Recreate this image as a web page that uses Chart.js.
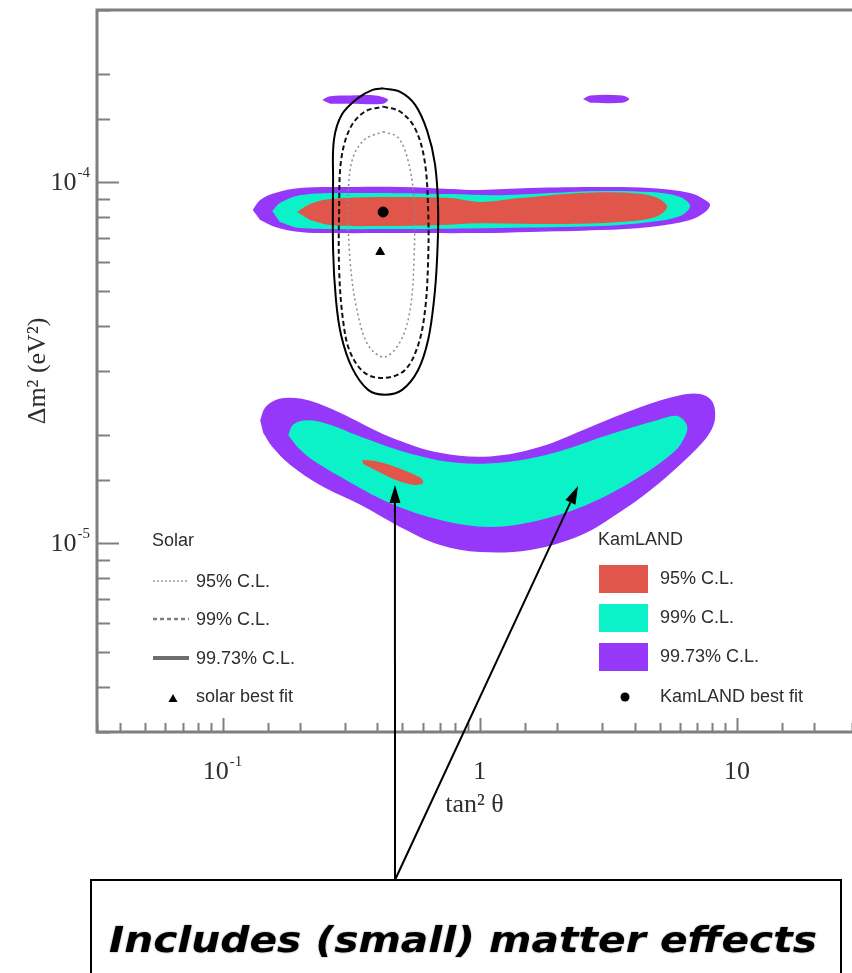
<!DOCTYPE html>
<html>
<head>
<meta charset="utf-8">
<title>KamLAND and solar allowed regions</title>
<script src="https://cdn.jsdelivr.net/npm/chart.js@4.4.1/dist/chart.umd.min.js"></script>
<style>
  html, body { margin: 0; padding: 0; background: #fff; overflow: hidden; }
  canvas { display: block; }
</style>
</head>
<body>
<canvas id="osc" width="852" height="973"></canvas>
<script>
// Axis ranges (tan^2 theta, delta m^2 in eV^2)
const X_RANGE = [0.0325, 28];
const Y_RANGE = [3e-6, 3e-4];

// KamLAND allowed regions, [tan2, dm2] outlines
const KAM_9973_BAND = [
  [0.131, 8.38e-5], [0.140, 8.93e-5], [0.160, 9.34e-5], [0.200, 9.64e-5], [0.313, 9.70e-5],
  [0.490, 9.70e-5], [0.767, 9.58e-5], [1.00, 9.52e-5], [1.57, 9.64e-5], [2.94, 9.70e-5],
  [4.59, 9.64e-5], [6.57, 9.34e-5], [7.52, 8.93e-5], [7.86, 8.65e-5], [7.52, 8.27e-5],
  [6.57, 7.86e-5], [4.59, 7.52e-5], [2.94, 7.37e-5], [1.57, 7.28e-5], [1.00, 7.23e-5],
  [0.490, 7.23e-5], [0.262, 7.23e-5], [0.200, 7.28e-5], [0.160, 7.52e-5], [0.140, 7.86e-5]
];
const KAM_9973_ISLAND_A = [
  [0.244, 1.69e-4], [0.262, 1.73e-4], [0.313, 1.74e-4], [0.392, 1.74e-4], [0.432, 1.71e-4],
  [0.440, 1.69e-4], [0.421, 1.65e-4], [0.313, 1.65e-4], [0.262, 1.65e-4]
];
const KAM_9973_ISLAND_B = [
  [2.52, 1.70e-4], [2.69, 1.74e-4], [3.58, 1.74e-4], [3.81, 1.70e-4], [3.58, 1.66e-4], [2.69, 1.66e-4]
];
const KAM_9973_LOW = [
  [0.140, 2.19e-5], [0.146, 2.37e-5], [0.160, 2.49e-5], [0.183, 2.53e-5], [0.219, 2.48e-5],
  [0.286, 2.30e-5], [0.448, 1.97e-5], [0.701, 1.78e-5], [1.10, 1.74e-5], [1.72, 1.85e-5],
  [2.69, 2.10e-5], [4.20, 2.38e-5], [6.01, 2.57e-5], [7.19, 2.59e-5], [8.01, 2.47e-5],
  [8.22, 2.22e-5], [7.86, 2.03e-5], [7.19, 1.87e-5], [6.01, 1.65e-5], [4.59, 1.40e-5],
  [3.51, 1.22e-5], [2.46, 1.05e-5], [1.57, 9.58e-6], [1.00, 9.45e-6], [0.701, 9.89e-6],
  [0.490, 1.11e-5], [0.342, 1.28e-5], [0.239, 1.45e-5], [0.183, 1.65e-5], [0.156, 1.85e-5],
  [0.144, 2.02e-5]
];
const KAM_99_BAND = [
  [0.156, 8.32e-5], [0.167, 8.76e-5], [0.200, 9.21e-5], [0.313, 9.34e-5], [0.767, 9.28e-5],
  [1.20, 9.21e-5], [2.94, 9.45e-5], [4.59, 9.39e-5], [6.01, 9.10e-5], [6.57, 8.59e-5],
  [6.01, 8.06e-5], [4.59, 7.76e-5], [2.94, 7.56e-5], [1.20, 7.47e-5], [0.490, 7.42e-5],
  [0.200, 7.47e-5], [0.167, 7.76e-5]
];
const KAM_99_LOW = [
  [0.180, 1.99e-5], [0.188, 2.13e-5], [0.213, 2.19e-5], [0.262, 2.13e-5], [0.333, 1.99e-5],
  [0.522, 1.78e-5], [0.816, 1.67e-5], [1.28, 1.68e-5], [2.00, 1.79e-5], [3.13, 1.99e-5],
  [4.89, 2.19e-5], [5.85, 2.25e-5], [6.40, 2.11e-5], [6.17, 1.93e-5], [5.64, 1.78e-5],
  [4.20, 1.53e-5], [2.69, 1.29e-5], [1.72, 1.16e-5], [1.10, 1.11e-5], [0.701, 1.16e-5],
  [0.448, 1.29e-5], [0.286, 1.53e-5], [0.219, 1.72e-5], [0.195, 1.85e-5]
];
const KAM_95_BAND = [
  [0.195, 8.27e-5], [0.219, 8.70e-5], [0.262, 8.98e-5], [0.410, 9.10e-5], [0.767, 9.04e-5],
  [1.00, 8.82e-5], [1.43, 9.04e-5], [2.46, 9.34e-5], [3.84, 9.34e-5], [4.81, 9.10e-5],
  [5.35, 8.54e-5], [4.81, 8.01e-5], [3.51, 7.76e-5], [2.05, 7.66e-5], [1.00, 7.70e-5],
  [0.701, 7.61e-5], [0.410, 7.56e-5], [0.262, 7.61e-5], [0.219, 7.86e-5]
];
const KAM_95_LOW = [
  [0.349, 1.70e-5], [0.392, 1.69e-5], [0.468, 1.63e-5], [0.586, 1.52e-5], [0.602, 1.47e-5],
  [0.560, 1.45e-5], [0.468, 1.50e-5], [0.375, 1.62e-5], [0.352, 1.66e-5]
];

// Solar allowed regions (closed contours)
const SOLAR_9973 = [
  [0.421, 1.82e-4], [0.490, 1.78e-4], [0.560, 1.64e-4], [0.624, 1.39e-4], [0.670, 1.12e-4],
  [0.689, 8.38e-5], [0.682, 6.09e-5], [0.664, 4.72e-5], [0.630, 3.66e-5], [0.576, 3.02e-5],
  [0.499, 2.66e-5], [0.428, 2.58e-5], [0.368, 2.66e-5], [0.319, 3.06e-5], [0.289, 3.77e-5],
  [0.276, 4.72e-5], [0.269, 6.49e-5], [0.269, 1.01e-4], [0.271, 1.31e-4], [0.291, 1.54e-4],
  [0.336, 1.71e-4], [0.381, 1.80e-4]
];
const SOLAR_99 = [
  [0.421, 1.62e-4], [0.490, 1.57e-4], [0.560, 1.41e-4], [0.610, 1.15e-4], [0.630, 8.38e-5],
  [0.630, 6.09e-5], [0.613, 4.43e-5], [0.576, 3.54e-5], [0.512, 3.02e-5], [0.428, 2.87e-5],
  [0.358, 2.96e-5], [0.313, 3.39e-5], [0.294, 4.15e-5], [0.284, 5.71e-5], [0.284, 8.38e-5],
  [0.289, 1.15e-4], [0.313, 1.41e-4], [0.358, 1.57e-4]
];
const SOLAR_95 = [
  [0.421, 1.38e-4], [0.481, 1.33e-4], [0.526, 1.15e-4], [0.555, 8.93e-5], [0.555, 6.09e-5],
  [0.536, 4.43e-5], [0.490, 3.61e-5], [0.425, 3.28e-5], [0.368, 3.54e-5], [0.333, 4.43e-5],
  [0.313, 6.09e-5], [0.308, 8.93e-5], [0.319, 1.15e-4], [0.355, 1.31e-4]
];

// Best fit points
const KAM_BEST = [0.421, 8.27e-5];
const SOLAR_BEST = [0.410, 6.41e-5];

// Where the two "matter effects" arrows point
const ARROW_TIPS = [[0.468, 1.45e-5], [2.41, 1.44e-5]];

const PURPLE = '#9638fa';
const CYAN = '#0cf2c8';
const RED = '#e0564a';
const AXIS_GREY = '#7f7f7f';
const TEXT = '#2e2e2e';
const SERIF = '"Liberation Serif", "DejaVu Serif", serif';
const SANS = '"Liberation Sans", Arial, sans-serif';

const pts = (pairs, close) => {
  const out = pairs.map(p => ({ x: p[0], y: p[1] }));
  if (close) out.push({ x: pairs[0][0], y: pairs[0][1] });
  return out;
};

const region = (label, pairs, color) => ({
  label, data: pts(pairs, false), fill: 'shape', backgroundColor: color,
  borderWidth: 0, pointRadius: 0, tension: 0.35
});

const contour = (label, pairs, color, width, dash) => ({
  label, data: pts(pairs, true), fill: false, borderColor: color,
  borderWidth: width, borderDash: dash, pointRadius: 0, tension: 0.35
});

// Datasets are listed top-most first (chart.js draws index 0 last)
const datasets = [
  { label: 'KamLAND best fit', data: pts([KAM_BEST]), showLine: false, pointRadius: 5,
    pointStyle: 'circle', backgroundColor: '#000', borderColor: '#000' },
  { label: 'solar best fit', data: pts([SOLAR_BEST]), showLine: false, pointRadius: 5,
    pointStyle: 'triangle', backgroundColor: '#000', borderColor: '#000' },
  contour('Solar 99.73%', SOLAR_9973, '#000', 2, []),
  contour('Solar 99%', SOLAR_99, '#111', 2, [5, 3]),
  contour('Solar 95%', SOLAR_95, '#8a8a8a', 1.5, [2, 3]),
  region('KamLAND 95% low', KAM_95_LOW, RED),
  region('KamLAND 95%', KAM_95_BAND, RED),
  region('KamLAND 99% low', KAM_99_LOW, CYAN),
  region('KamLAND 99%', KAM_99_BAND, CYAN),
  region('KamLAND 99.73% low', KAM_9973_LOW, PURPLE),
  region('KamLAND 99.73% A', KAM_9973_ISLAND_A, PURPLE),
  region('KamLAND 99.73% B', KAM_9973_ISLAND_B, PURPLE),
  region('KamLAND 99.73%', KAM_9973_BAND, PURPLE)
];

const isDecade = v => Math.abs(Math.log10(v) - Math.round(Math.log10(v))) < 1e-6;

// "10" with a raised exponent, like the ROOT axis labels
function drawPower(ctx, value, x, y, align) {
  const e = Math.round(Math.log10(value));
  const base = e === 0 ? '1' : '10';
  const exp = e < 0 ? String(e) : '';
  ctx.font = '26px ' + SERIF;
  const bw = ctx.measureText(base).width;
  ctx.font = '15px ' + SERIF;
  const ew = exp ? ctx.measureText(exp).width + 1 : 0;
  const left = align === 'right' ? x - bw - ew : x - (bw + ew) / 2;
  ctx.fillStyle = TEXT;
  ctx.textAlign = 'left';
  ctx.textBaseline = 'middle';
  ctx.font = '26px ' + SERIF;
  ctx.fillText(base, left, y);
  if (exp) {
    ctx.font = '15px ' + SERIF;
    ctx.fillText(exp, left + bw + 1, y - 10);
  }
}

const framePlugin = {
  id: 'frame',
  afterDatasetsDraw(chart) {
    const { ctx, chartArea: a, scales: { x, y } } = chart;
    ctx.save();
    ctx.strokeStyle = AXIS_GREY;
    ctx.lineWidth = 2;
    // inward ticks
    y.ticks.forEach(t => {
      const py = Math.round(y.getPixelForValue(t.value)) + 0.5;
      const len = isDecade(t.value) ? 22 : 13;
      ctx.beginPath(); ctx.moveTo(a.left, py); ctx.lineTo(a.left + len, py); ctx.stroke();
    });
    x.ticks.forEach(t => {
      const px = Math.round(x.getPixelForValue(t.value)) + 0.5;
      const len = isDecade(t.value) ? 14 : 9;
      ctx.beginPath(); ctx.moveTo(px, a.bottom); ctx.lineTo(px, a.bottom - len); ctx.stroke();
    });
    // axis lines and the top frame
    ctx.lineWidth = 3;
    ctx.beginPath();
    ctx.moveTo(a.right + 2, a.top);
    ctx.lineTo(a.left, a.top);
    ctx.lineTo(a.left, a.bottom);
    ctx.lineTo(a.right + 2, a.bottom);
    ctx.stroke();
    ctx.restore();
  },
  afterDraw(chart) {
    const { ctx, chartArea: a, scales: { x, y } } = chart;
    ctx.save();
    y.ticks.filter(t => isDecade(t.value)).forEach(t => {
      drawPower(ctx, t.value, a.left - 7, y.getPixelForValue(t.value) + 1, 'right');
    });
    x.ticks.filter(t => isDecade(t.value)).forEach(t => {
      drawPower(ctx, t.value, x.getPixelForValue(t.value), a.bottom + 40, 'center');
    });
    ctx.restore();
  }
};

const legendPlugin = {
  id: 'inPlotLegend',
  afterDraw(chart) {
    const { ctx } = chart;
    ctx.save();
    ctx.fillStyle = TEXT;
    ctx.font = '18px ' + SANS;
    ctx.textAlign = 'left';
    ctx.textBaseline = 'middle';

    // solar block
    ctx.fillText('Solar', 152, 541);
    const solarRows = [
      { y: 581, text: '95% C.L.', color: '#9a9a9a', width: 1.5, dash: [2, 2] },
      { y: 619, text: '99% C.L.', color: '#808080', width: 2.5, dash: [4, 3] },
      { y: 658, text: '99.73% C.L.', color: '#6e6e6e', width: 4, dash: [] }
    ];
    solarRows.forEach(r => {
      ctx.strokeStyle = r.color;
      ctx.lineWidth = r.width;
      ctx.setLineDash(r.dash);
      ctx.beginPath(); ctx.moveTo(153, r.y); ctx.lineTo(189, r.y); ctx.stroke();
      ctx.fillText(r.text, 196, r.y + 1);
    });
    ctx.setLineDash([]);
    ctx.fillStyle = '#000';
    ctx.beginPath();
    ctx.moveTo(173, 694); ctx.lineTo(177.5, 702); ctx.lineTo(168.5, 702); ctx.closePath();
    ctx.fill();
    ctx.fillStyle = TEXT;
    ctx.fillText('solar best fit', 196, 697);

    // KamLAND block
    ctx.fillText('KamLAND', 598, 540);
    [[RED, 565, '95% C.L.'], [CYAN, 604, '99% C.L.'], [PURPLE, 643, '99.73% C.L.']].forEach(([c, top, text]) => {
      ctx.fillStyle = c;
      ctx.fillRect(599, top, 49, 28);
      ctx.fillStyle = TEXT;
      ctx.fillText(text, 660, top + 14);
    });
    ctx.fillStyle = '#000';
    ctx.beginPath(); ctx.arc(625, 697, 4.5, 0, Math.PI * 2); ctx.fill();
    ctx.fillStyle = TEXT;
    ctx.fillText('KamLAND best fit', 660, 697);
    ctx.restore();
  }
};

// Box with the remark and the two arrows pointing into the low region
const notePlugin = {
  id: 'matterNote',
  afterDraw(chart) {
    const { ctx, scales: { x, y } } = chart;
    const root = { x: 395, y: 880 };
    ctx.save();
    ctx.strokeStyle = '#000';
    ctx.fillStyle = '#000';
    ctx.lineWidth = 2;
    ARROW_TIPS.forEach(([tx, ty]) => {
      const px = x.getPixelForValue(tx);
      const py = y.getPixelForValue(ty);
      const ang = Math.atan2(py - root.y, px - root.x);
      const headLen = 18, headHalf = 5.5;
      const bx = px - headLen * Math.cos(ang), by = py - headLen * Math.sin(ang);
      ctx.beginPath(); ctx.moveTo(root.x, root.y); ctx.lineTo(bx, by); ctx.stroke();
      ctx.beginPath();
      ctx.moveTo(px, py);
      ctx.lineTo(bx + headHalf * Math.sin(ang), by - headHalf * Math.cos(ang));
      ctx.lineTo(bx - headHalf * Math.sin(ang), by + headHalf * Math.cos(ang));
      ctx.closePath(); ctx.fill();
    });

    ctx.lineWidth = 2;
    ctx.strokeRect(91, 880, 750, 110);

    const note = 'Includes (small) matter effects';
    ctx.font = 'italic bold 36px "DejaVu Sans", sans-serif';
    ctx.textBaseline = 'alphabetic';
    ctx.textAlign = 'left';
    const w = ctx.measureText(note).width;
    const target = 708;
    ctx.translate(109, 952);
    ctx.scale(target / w, 1);
    ctx.shadowColor = 'rgba(0,0,0,0.45)';
    ctx.shadowBlur = 2;
    ctx.fillText(note, 0, 0);
    ctx.restore();
  }
};

new Chart(document.getElementById('osc'), {
  type: 'line',
  data: { datasets },
  options: {
    responsive: false,
    animation: false,
    events: [],
    layout: { autoPadding: false, padding: { top: 10, right: 0, bottom: 0, left: 0 } },
    plugins: {
      legend: { display: false },
      tooltip: { enabled: false }
    },
    scales: {
      x: {
        type: 'logarithmic',
        min: X_RANGE[0],
        max: X_RANGE[1],
        grid: { display: false, drawTicks: false },
        border: { display: false },
        ticks: { display: false },
        title: {
          display: true, text: 'tan\u00b2 \u03b8', color: TEXT,
          font: { family: SERIF, size: 26 }, padding: { top: 0, bottom: 152 }
        },
        afterFit: s => { s.height = 241; }
      },
      y: {
        type: 'logarithmic',
        min: Y_RANGE[0],
        max: Y_RANGE[1],
        grid: { display: false, drawTicks: false },
        border: { display: false },
        ticks: { display: false },
        title: {
          display: true, text: '\u0394m\u00b2 (eV\u00b2)', color: TEXT,
          font: { family: SERIF, size: 26 }, padding: { top: 23, bottom: 0 }
        },
        afterFit: s => { s.width = 97; }
      }
    }
  },
  plugins: [framePlugin, legendPlugin, notePlugin]
});
</script>
</body>
</html>
